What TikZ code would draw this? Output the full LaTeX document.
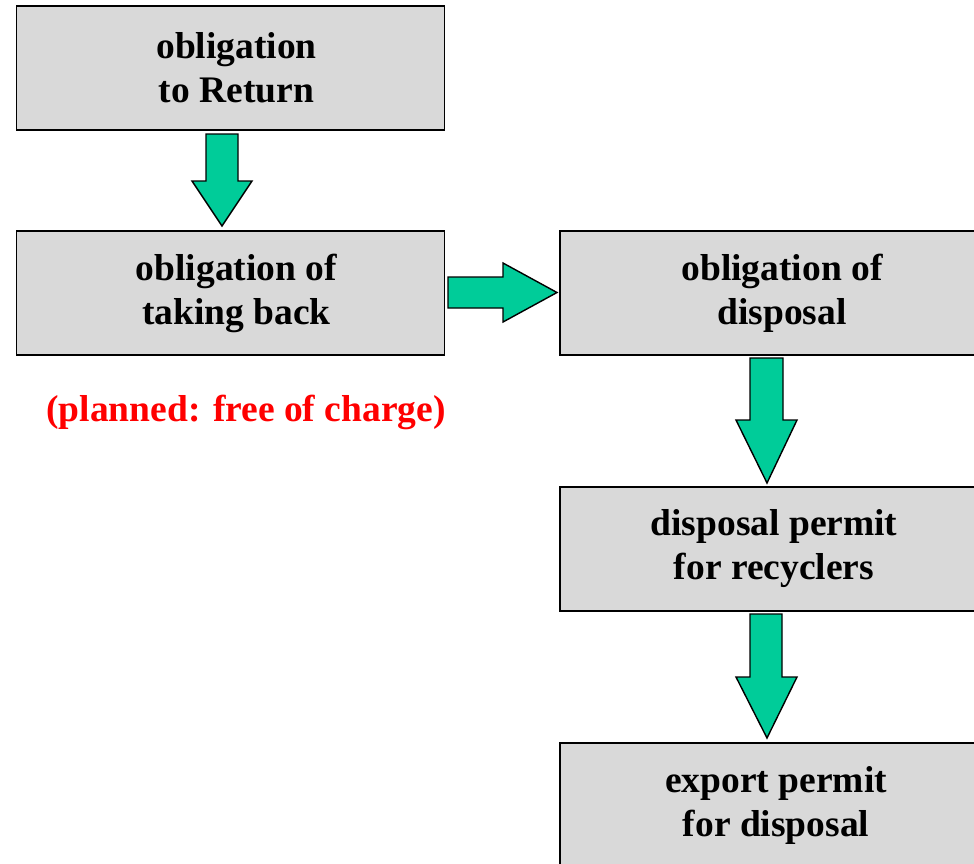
\documentclass[tikz,border=0pt]{standalone}
\usepackage{fontspec}
\setmainfont{Liberation Serif}
\begin{document}
\begin{tikzpicture}[x=1pt,y=-1pt,
  box/.style={draw=black, line width=1.4pt, fill=boxgray, minimum width=428pt, minimum height=124pt,
    align=center, inner sep=0pt, font=\fontsize{37.5}{44}\selectfont\bfseries},
  blockarrow/.style={draw=black, line width=1.4pt, fill=arrowgreen, line join=miter}]
\definecolor{boxgray}{HTML}{D9D9D9}
\definecolor{arrowgreen}{HTML}{00CC99}
\useasboundingbox (0,0) rectangle (974,863);
\clip (0,0) rectangle (974,863);
\node[box] (b1) at (230.5,68) {\hspace*{12pt}obligation\\\hspace*{12pt}to Return};
\node[box] (b2) at (230.5,293) {\hspace*{12pt}obligation of\\\hspace*{12pt}taking back};
\node[box] (b3) at (774,293) {\hspace*{16pt}obligation of\\\hspace*{16pt}disposal};
\node[box] (b4) at (774,549) {disposal permit\\for recyclers};
\node[box] (b5) at (774,805) {\hspace*{4pt}export permit\\\hspace*{4pt}for disposal};
\node[text=red, font=\fontsize{37.5}{44}\selectfont\bfseries, inner sep=0pt] (note) at (246,412) {(planned: free of charge)};
\draw[blockarrow] (206,134) -- (238,134) -- (238,181) -- (252,181) -- (222,226) -- (192,181) -- (206,181) -- cycle;
\draw[blockarrow] (448,277) -- (503,277) -- (503,263) -- (557,292.5) -- (503,322) -- (503,308) -- (448,308) -- cycle;
\draw[blockarrow] (750,358) -- (783,358) -- (783,420) -- (797,420) -- (767,483) -- (736,420) -- (750,420) -- cycle;
\draw[blockarrow] (750,614) -- (782,614) -- (782,677) -- (797,677) -- (767,738) -- (736,677) -- (750,677) -- cycle;
\end{tikzpicture}
\end{document}
